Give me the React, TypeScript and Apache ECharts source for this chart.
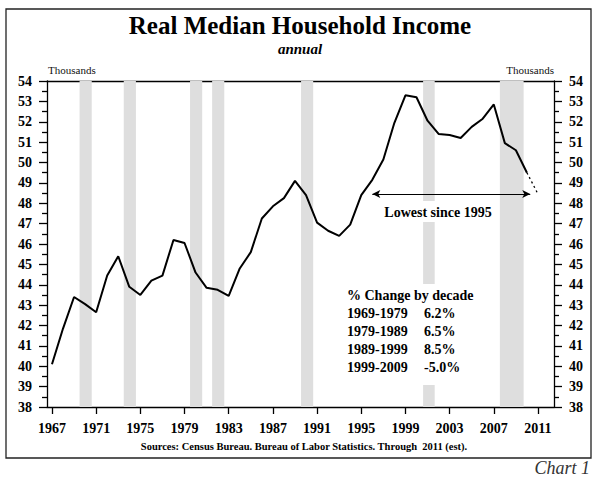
import React, { useEffect, useRef } from "react";
import * as echarts from "echarts";

const years = [
  1967, 1968, 1969, 1970, 1971, 1972, 1973, 1974, 1975, 1976, 1977, 1978, 1979, 1980, 1981,
  1982, 1983, 1984, 1985, 1986, 1987, 1988, 1989, 1990, 1991, 1992, 1993, 1994, 1995, 1996,
  1997, 1998, 1999, 2000, 2001, 2002, 2003, 2004, 2005, 2006, 2007, 2008, 2009, 2010,
];
const income = [
  40.1, 41.85, 43.4, 43.05, 42.65, 44.45, 45.4, 43.9, 43.5, 44.2, 44.45, 46.2, 46.05, 44.6, 43.85,
  43.75, 43.45, 44.8, 45.6, 47.25, 47.85, 48.25, 49.1, 48.4, 47.05, 46.65, 46.4, 46.95, 48.4, 49.15,
  50.15, 51.95, 53.3, 53.2, 52.05, 51.4, 51.35, 51.2, 51.75, 52.15, 52.85, 50.95, 50.6, 49.5,
];
const estimateYears = [2010, 2011];
const estimateValues = [49.5, 48.45];

const recessionStart = [1969.5, 1973.5, 1979.5, 1981.5, 1989.55, 2000.6, 2007.55];
const recessionEnd = [1970.6, 1974.6, 1980.6, 1982.6, 1990.65, 2001.65, 2009.7];

const xTicks = [1967, 1971, 1975, 1979, 1983, 1987, 1991, 1995, 1999, 2003, 2007, 2011];

const decades = ["1969-1979", "1979-1989", "1989-1999", "1999-2009"];
const decadeChange = ["6.2%", "6.5%", "8.5%", "-5.0%"];

const SERIF = "'Liberation Serif', 'Times New Roman', serif";

export default function App() {
  const ref = useRef<HTMLDivElement>(null);
  useEffect(() => {
    document.body.style.margin = "0";
    const chart = echarts.init(ref.current!, null, { renderer: "svg" });
    const yAxisBase = {
      type: "value",
      min: 38,
      max: 54,
      interval: 1,
      axisLine: { show: true, lineStyle: { color: "#000", width: 1.3 } },
      axisTick: { show: true, inside: false, length: 8, lineStyle: { color: "#000", width: 1.3 } },
      minorTick: { show: true, splitNumber: 2, length: 5, lineStyle: { color: "#000", width: 1.3 } },
      splitLine: { show: false },
      axisLabel: {
        margin: 15,
        fontFamily: SERIF,
        fontWeight: "bold",
        fontSize: 14,
        color: "#000",
      },
    };
    const tableTexts: any[] = [];
    tableTexts.push({
      type: "text",
      left: 347,
      top: 288,
      z: 101,
      style: { text: "% Change by decade", font: `bold 14px ${SERIF}`, fill: "#000" },
    });
    decades.forEach((d, i) => {
      tableTexts.push({
        type: "text",
        left: 347,
        top: 306 + i * 18.3,
        z: 101,
        style: { text: d, font: `bold 14px ${SERIF}`, fill: "#000" },
      });
      tableTexts.push({
        type: "text",
        left: 424,
        top: 306 + i * 18.3,
        z: 101,
        style: { text: decadeChange[i], font: `bold 14px ${SERIF}`, fill: "#000" },
      });
    });

    chart.setOption({
      animation: false,
      backgroundColor: "#fff",
      grid: { left: 47, right: 50, top: 81, bottom: 76, containLabel: false },
      xAxis: [
        {
          type: "value",
          min: 1966.55,
          max: 2012.45,
          axisLine: { show: true, onZero: false, lineStyle: { color: "#000", width: 1.3 } },
          axisTick: {
            show: true,
            inside: false,
            length: 7,
            customValues: xTicks,
            lineStyle: { color: "#000", width: 1.3 },
          },
          axisLabel: {
            customValues: xTicks,
            margin: 14,
            formatter: (v: number) => String(v),
            fontFamily: SERIF,
            fontWeight: "bold",
            fontSize: 14,
            color: "#000",
          },
          splitLine: { show: false },
        },
        {
          type: "value",
          position: "top",
          min: 1966.55,
          max: 2012.45,
          axisLine: { show: true, onZero: false, lineStyle: { color: "#000", width: 1.3 } },
          axisTick: { show: false },
          axisLabel: { show: false },
          splitLine: { show: false },
        },
      ],
      yAxis: [
        { ...yAxisBase, position: "left" },
        { ...yAxisBase, position: "right" },
      ],
      series: [
        {
          type: "line",
          data: years.map((y, i) => [y, income[i]]),
          symbol: "none",
          lineStyle: { color: "#000", width: 2 },
          z: 5,
          markArea: {
            silent: true,
            itemStyle: { color: "#dedede" },
            data: recessionStart.map((s, i) => [{ xAxis: s, yAxis: 54 }, { xAxis: recessionEnd[i], yAxis: 38 }]),
          },
        },
        {
          type: "line",
          data: estimateYears.map((y, i) => [y, estimateValues[i]]),
          symbol: "none",
          lineStyle: { color: "#000", width: 1.3, type: [2, 3] },
          z: 5,
          markLine: {
            silent: true,
            symbol: ["arrow", "arrow"],
            symbolSize: [6, 8],
            label: { show: false },
            lineStyle: { color: "#000", width: 1, type: "solid" },
            data: [
              [
                { coord: [1996.0, estimateValues[1]] },
                { coord: [2010.3, estimateValues[1]] },
              ],
            ],
          },
        },
      ],
      graphic: [
        {
          type: "rect",
          z: 0,
          shape: { x: 6, y: 9, width: 585, height: 449 },
          style: { fill: "none", stroke: "#222", lineWidth: 1.3 },
        },
        {
          type: "text",
          x: 300,
          y: 25,
          z: 100,
          style: {
            text: "Real Median Household Income",
            font: `bold 25px ${SERIF}`,
            fill: "#000",
            textAlign: "center",
            textVerticalAlign: "middle",
          },
        },
        {
          type: "text",
          x: 300,
          y: 49,
          z: 100,
          style: {
            text: "annual",
            font: `italic bold 15px ${SERIF}`,
            fill: "#000",
            textAlign: "center",
            textVerticalAlign: "middle",
          },
        },
        {
          type: "text",
          x: 48,
          y: 70,
          z: 100,
          style: { text: "Thousands", font: `11px ${SERIF}`, fill: "#111", textAlign: "left", textVerticalAlign: "middle" },
        },
        {
          type: "text",
          x: 554,
          y: 70,
          z: 100,
          style: { text: "Thousands", font: `11px ${SERIF}`, fill: "#111", textAlign: "right", textVerticalAlign: "middle" },
        },
        {
          type: "rect",
          z: 99,
          shape: { x: 380, y: 201, width: 116, height: 21 },
          style: { fill: "#fff" },
        },
        {
          type: "text",
          x: 438,
          y: 212,
          z: 101,
          style: {
            text: "Lowest since 1995",
            font: `bold 14px ${SERIF}`,
            fill: "#000",
            textAlign: "center",
            textVerticalAlign: "middle",
          },
        },
        {
          type: "rect",
          z: 99,
          shape: { x: 342, y: 284, width: 140, height: 101 },
          style: { fill: "#fff" },
        },
        ...tableTexts,
        {
          type: "text",
          x: 304,
          y: 446,
          z: 100,
          style: {
            text: "Sources: Census Bureau. Bureau of Labor Statistics. Through  2011 (est).",
            font: `bold 10.5px ${SERIF}`,
            fill: "#000",
            textAlign: "center",
            textVerticalAlign: "middle",
          },
        },
        {
          type: "text",
          x: 590,
          y: 468,
          z: 100,
          style: {
            text: "Chart 1",
            font: `italic 18px ${SERIF}`,
            fill: "#333",
            textAlign: "right",
            textVerticalAlign: "middle",
          },
        },
      ],
    });
    return () => chart.dispose();
  }, []);
  return <div ref={ref} style={{ width: 604, height: 483 }} />;
}
